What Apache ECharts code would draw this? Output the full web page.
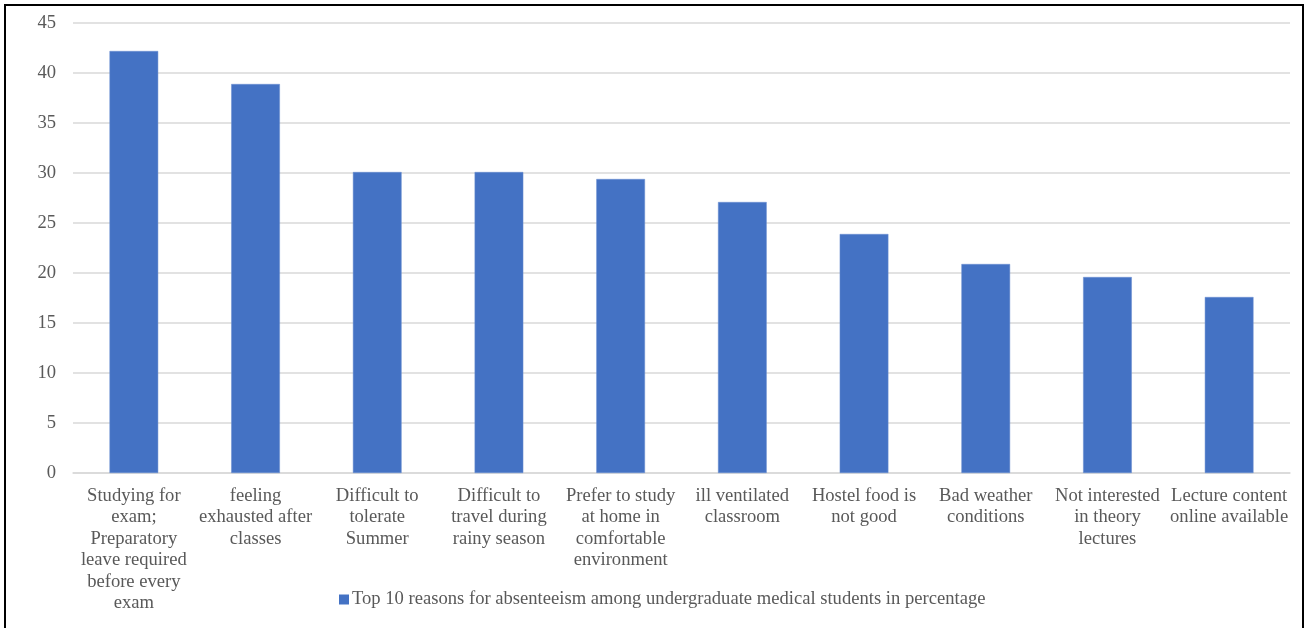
<!DOCTYPE html>
<html>
<head>
<meta charset="utf-8">
<script src="https://cdn.jsdelivr.net/npm/echarts@6/dist/echarts.min.js"></script>
<style>
  html, body { margin: 0; padding: 0; background: #fff; }
  #chart { width: 1306px; height: 628px; }
</style>
</head>
<body>
<div id="chart"></div>
<script>
// Reasons for absenteeism (category labels, wrapped as printed)
const categories = [
  'Studying for\nexam;\nPreparatory\nleave required\nbefore every\nexam',
  'feeling\nexhausted after\nclasses',
  'Difficult to\ntolerate\nSummer',
  'Difficult to\ntravel during\nrainy season',
  'Prefer to study\nat home in\ncomfortable\nenvironment',
  'ill ventilated\nclassroom',
  'Hostel food is\nnot good',
  'Bad weather\nconditions',
  'Not interested\nin theory\nlectures',
  'Lecture content\nonline available'
];

// Percentage of students giving each reason
const percentages = [42.2, 38.9, 30.1, 30.1, 29.4, 27.1, 23.9, 20.9, 19.6, 17.6];

const seriesName = 'Top 10 reasons for absenteeism among undergraduate medical students in percentage';

const textColor = '#595959';
const fontFamily = '"Liberation Serif", "Times New Roman", serif';
const fontSize = 18.6;

const chart = echarts.init(document.getElementById('chart'));
chart.setOption({
  backgroundColor: '#ffffff',
  animation: false,
  textStyle: { fontFamily: fontFamily },
  graphic: [{
    type: 'rect',
    shape: { x: 5, y: 5, width: 1298, height: 640 },
    style: { fill: 'none', stroke: '#000000', lineWidth: 2 },
    silent: true
  }],
  grid: { left: 73, right: 16, top: 23, bottom: 155 },
  legend: {
    data: [seriesName],
    left: 334,
    top: 585,
    icon: 'rect',
    itemWidth: 10,
    itemHeight: 10,
    itemStyle: { borderWidth: 0 },
    textStyle: { color: textColor, fontSize: fontSize, fontFamily: fontFamily, padding: [0, 0, 0, -2] }
  },
  xAxis: {
    type: 'category',
    data: categories,
    axisLine: { lineStyle: { color: '#d9d9d9', width: 1.5 } },
    axisTick: { show: false },
    axisLabel: {
      color: textColor,
      fontSize: fontSize,
      fontFamily: fontFamily,
      lineHeight: 21.5,
      interval: 0,
      margin: 12,
      align: 'center'
    }
  },
  yAxis: {
    type: 'value',
    min: 0,
    max: 45,
    interval: 5,
    axisLine: { show: false },
    axisTick: { show: false },
    splitLine: { lineStyle: { color: '#d9d9d9', width: 1.5 } },
    axisLabel: {
      color: textColor,
      fontSize: fontSize,
      fontFamily: fontFamily,
      margin: 17
    }
  },
  series: [{
    name: seriesName,
    type: 'bar',
    data: percentages,
    barWidth: '40%',
    itemStyle: { color: '#4472C4', borderColor: '#6a8fd0', borderWidth: 0.5 }
  }]
});
</script>
</body>
</html>
